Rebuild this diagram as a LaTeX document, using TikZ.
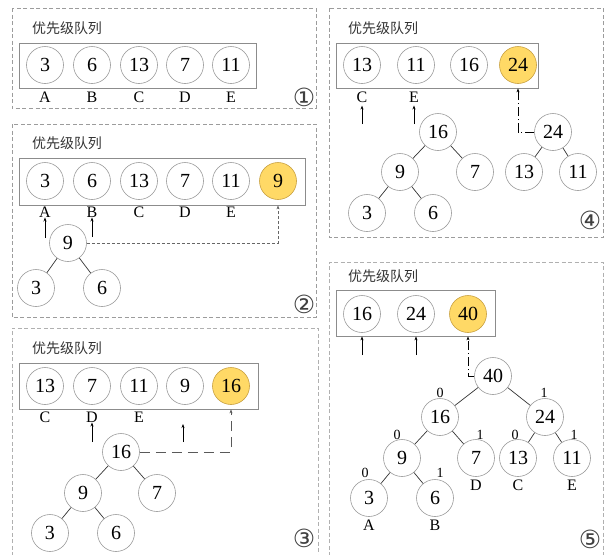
\documentclass[tikz,border=0pt]{standalone}
\usepackage{fontspec}
\setmainfont{Liberation Serif}
\newfontfamily\cjk{Noto Sans CJK SC}
\newfontfamily\symfont{DejaVu Sans}
\usetikzlibrary{arrows.meta}
\definecolor{ringgray}{HTML}{9A9A9A}
\definecolor{boxgray}{HTML}{8C8C8C}
\definecolor{panelgray}{HTML}{9C9C9C}
\definecolor{titlegray}{HTML}{333333}
\definecolor{hotfill}{HTML}{FFD966}
\definecolor{hotdraw}{HTML}{C8A040}
\begin{document}
\begin{tikzpicture}[x=1pt,y=-1pt,
  ball/.style={circle,draw=ringgray,line width=0.6pt,minimum size=37pt,inner sep=0pt,
    font=\fontsize{20}{20}\selectfont},
  hot/.style={ball,fill=hotfill,draw=hotdraw},
  queue/.style={draw=boxgray,line width=0.8pt,rectangle,inner sep=0pt},
  panel/.style={draw=panelgray,dash pattern=on 4pt off 2.5pt,line width=0.7pt},
  title/.style={font=\cjk\fontsize{14}{14}\selectfont,text=titlegray,inner sep=0pt},
  tag/.style={font=\fontsize{16}{16}\selectfont,inner sep=0pt},
  bit/.style={font=\fontsize{14}{14}\selectfont,inner sep=0pt},
  stepno/.style={font=\symfont\fontsize{25}{25}\selectfont,inner sep=0pt,text=black!75},
  up/.style={-{Stealth[length=4pt,width=3pt]},line width=0.7pt},
  branch/.style={line width=0.7pt,draw=black!80},
  merge/.style={-{Stealth[length=4pt,width=3pt]},line width=0.8pt},
]
\useasboundingbox (0,0) rectangle (606,555);

% ---------- stage 1 ----------
\draw[panel] (12,8) rectangle (316,108);
\node[title] (h1) at (67,28) {优先级队列};
\node[queue,minimum width=237pt,minimum height=45pt] (p1box) at (137.5,65.5) {};
\node[ball] (p1q1) at (45,65) {3};
\node[ball] (p1q2) at (92,65) {6};
\node[ball] (p1q3) at (139,65) {13};
\node[ball] (p1q4) at (185,65) {7};
\node[ball] (p1q5) at (231,65) {11};
\node[tag] (p1lA) at (45,97) {A};
\node[tag] (p1lB) at (92,97) {B};
\node[tag] (p1lC) at (139,97) {C};
\node[tag] (p1lD) at (185,97) {D};
\node[tag] (p1lE) at (231,97) {E};
\node[stepno] (s1) at (304,97) {①};

% ---------- stage 2 ----------
\draw[panel] (12,124) rectangle (316,317);
\node[title] (h2) at (67,143) {优先级队列};
\node[queue,minimum width=286pt,minimum height=47pt] (p2box) at (162,181.5) {};
\node[ball] (p2q1) at (45,181) {3};
\node[ball] (p2q2) at (92,181) {6};
\node[ball] (p2q3) at (139,181) {13};
\node[ball] (p2q4) at (185,181) {7};
\node[ball] (p2q5) at (231,181) {11};
\node[hot]  (p2q6) at (278,181) {9};
\node[tag] (p2lA) at (45,212) {A};
\node[tag] (p2lB) at (92,212) {B};
\node[tag] (p2lC) at (139,212) {C};
\node[tag] (p2lD) at (185,212) {D};
\node[tag] (p2lE) at (231,212) {E};
\node[ball] (t9) at (68,243) {9};
\node[ball] (t3) at (36,288) {3};
\node[ball] (t6) at (102,288) {6};
\draw[branch] (t9) -- (t3);
\draw[branch] (t9) -- (t6);
\coordinate (p2a) at (45,238);
\coordinate (p2b) at (92,237);
\draw[up] (p2a) -- (p2lA.south);
\draw[up] (p2b) -- (p2lB.south);
\draw[merge,draw=black!60,dash pattern=on 3pt off 2pt] (t9.east) -| (p2box.south -| p2q6);
\node[stepno] (s2) at (304,304) {②};

% ---------- stage 3 ----------
\draw[panel,draw=panelgray!80] (12,556) -- (12,328) -- (318,328) -- (318,556);
\node[title] (h3) at (67,348) {优先级队列};
\node[queue,minimum width=239pt,minimum height=46pt] (p3box) at (138.5,386) {};
\node[ball] (p3q1) at (45,386) {13};
\node[ball] (p3q2) at (92,386) {7};
\node[ball] (p3q3) at (139,386) {11};
\node[ball] (p3q4) at (185,386) {9};
\node[hot]  (p3q5) at (231,386) {16};
\node[tag] (p3lC) at (45,417) {C};
\node[tag] (p3lD) at (92,417) {D};
\node[tag] (p3lE) at (139,417) {E};
\node[ball] (s16) at (121,452) {16};
\node[ball] (s9) at (83,493) {9};
\node[ball] (s7) at (157,493) {7};
\node[ball] (s3) at (50,533) {3};
\node[ball] (s6) at (116,533) {6};
\draw[branch] (s16) -- (s9);
\draw[branch] (s16) -- (s7);
\draw[branch] (s9) -- (s3);
\draw[branch] (s9) -- (s6);
\coordinate (p3a) at (92,442);
\coordinate (p3b) at (183,442);
\coordinate (p3bt) at (183,424);
\draw[up] (p3a) -- (p3lD.south);
\draw[up] (p3b) -- (p3bt);
\draw[merge,draw=black!65,dash pattern=on 10pt off 6pt] (s16.east) -| (p3box.south -| p3q5);
\node[stepno] (s3n) at (304,538) {③};

% ---------- stage 4 ----------
\draw[panel] (329,8) rectangle (603,237);
\node[title] (h4) at (383,28) {优先级队列};
\node[queue,minimum width=202pt,minimum height=45pt] (p4box) at (437,65.5) {};
\node[ball] (p4q1) at (362,65) {13};
\node[ball] (p4q2) at (416,65) {11};
\node[ball] (p4q3) at (469,65) {16};
\node[hot]  (p4q4) at (518,65) {24};
\node[tag] (p4lC) at (362,97) {C};
\node[tag] (p4lE) at (414,97) {E};
\node[ball] (m16) at (438,132) {16};
\node[ball] (m9) at (400,172) {9};
\node[ball] (m7) at (475,172) {7};
\node[ball] (m3) at (367,213) {3};
\node[ball] (m6) at (433,213) {6};
\node[ball] (m24) at (553,132) {24};
\node[ball] (m13) at (524,172) {13};
\node[ball] (m11) at (578,172) {11};
\draw[branch] (m16) -- (m9);
\draw[branch] (m16) -- (m7);
\draw[branch] (m9) -- (m3);
\draw[branch] (m9) -- (m6);
\draw[branch] (m24) -- (m13);
\draw[branch] (m24) -- (m11);
\coordinate (p4a) at (362,124);
\coordinate (p4b) at (414,124);
\draw[up,shorten >=3pt] (p4a) -- (p4lC.south);
\draw[up,shorten >=3pt] (p4b) -- (p4lE.south);
\draw[merge,dash pattern=on 9pt off 3pt on 1pt off 3pt] (m24.west) -| (p4box.south -| p4q4);
\node[stepno] (s4) at (590,220) {④};

% ---------- stage 5 ----------
\draw[panel,draw=panelgray!80] (329,556) -- (329,262) -- (603,262) -- (603,556);
\node[title] (h5) at (383,276) {优先级队列};
\node[queue,minimum width=159pt,minimum height=46pt] (p5box) at (415.5,313) {};
\node[ball] (p5q1) at (362,314) {16};
\node[ball] (p5q2) at (416,314) {24};
\node[hot]  (p5q3) at (468,314) {40};
\node[ball] (r40) at (493,376) {40};
\node[ball] (r16) at (440,417) {16};
\node[ball] (r24) at (545,417) {24};
\node[ball] (r9) at (402,458) {9};
\node[ball] (r7) at (476,458) {7};
\node[ball] (r13) at (518,458) {13};
\node[ball] (r11) at (572,458) {11};
\node[ball] (r3) at (369,498) {3};
\node[ball] (r6) at (435,498) {6};
\draw[branch] (r40) -- (r16);
\draw[branch] (r40) -- (r24);
\draw[branch] (r16) -- (r9);
\draw[branch] (r16) -- (r7);
\draw[branch] (r24) -- (r13);
\draw[branch] (r24) -- (r11);
\draw[branch] (r9) -- (r3);
\draw[branch] (r9) -- (r6);
\node[bit] (b1) at (440,393) {0};
\node[bit] (b2) at (544,393) {1};
\node[bit] (b3) at (397,435) {0};
\node[bit] (b4) at (480,435) {1};
\node[bit] (b5) at (515,435) {0};
\node[bit] (b6) at (574,435) {1};
\node[bit] (b7) at (365,473) {0};
\node[bit] (b8) at (440,473) {1};
\node[tag] (p5lD) at (476,485) {D};
\node[tag] (p5lC) at (518,485) {C};
\node[tag] (p5lE) at (572,485) {E};
\node[tag] (p5lA) at (369,525) {A};
\node[tag] (p5lB) at (435,525) {B};
\coordinate (p5a) at (362,355);
\coordinate (p5b) at (416,355);
\draw[up] (p5a) -- (p5box.south -| p5q1);
\draw[up] (p5b) -- (p5box.south -| p5q2);
\draw[merge,dash pattern=on 9pt off 3pt on 1pt off 3pt] (r40.west) -| (p5box.south -| p5q3);
\node[stepno] (s5) at (590,539) {⑤};
\end{tikzpicture}
\end{document}
